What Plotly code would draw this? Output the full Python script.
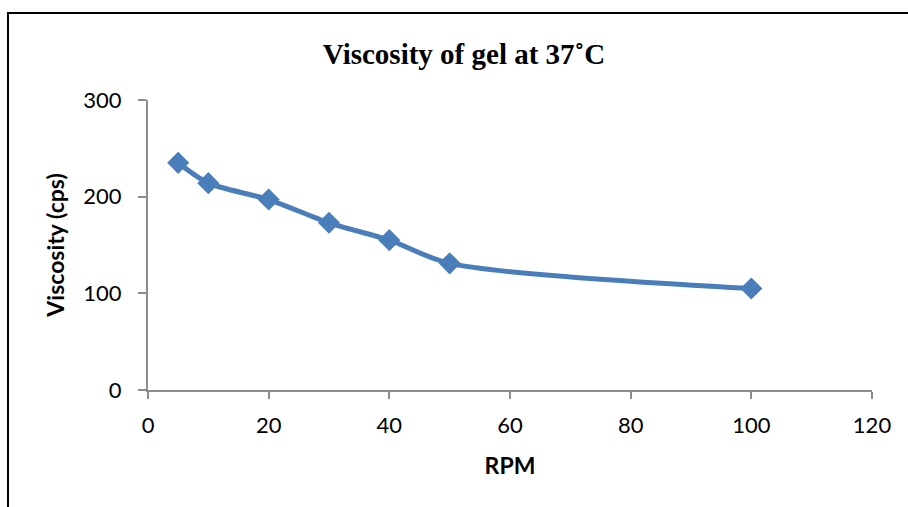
import plotly.graph_objects as go

# Viscosity measurements of the gel at 37 °C
rpm = [5, 10, 20, 30, 40, 50, 100]
viscosity = [235, 214, 197, 173, 155, 131, 105]

x_ticks = [0, 20, 40, 60, 80, 100, 120]
y_ticks = [0, 100, 200, 300]

W, H = 908, 507
L, R, T, B = 148, 36, 100, 117
pw, ph = W - L - R, H - T - B

def px_to_paper_x(px):
    return (px - L) / pw

def px_to_paper_y(py):
    return (H - B - py) / ph

blue = "#4A7EBB"
sans = "Lato, Open Sans, sans-serif"
tick_font = dict(family=sans, size=22, color="#000000")
label_font = dict(family=sans, size=23, color="#000000")
axis_color = "#8C8C8C"

fig = go.Figure()
fig.add_trace(go.Scatter(
    x=rpm, y=viscosity,
    mode="lines+markers",
    line=dict(color=blue, width=5, shape="spline", smoothing=0.8),
    marker=dict(symbol="diamond", size=17, color=blue),
    showlegend=False,
    cliponaxis=False,
))

fig.update_layout(
    width=W, height=H,
    margin=dict(l=L, r=R, t=T, b=B),
    paper_bgcolor="white",
    plot_bgcolor="white",
    title=dict(
        text="<b>Viscosity of gel at 37˚C</b>",
        font=dict(family="Liberation Serif, Times New Roman, serif", size=29, color="#000000"),
        x=px_to_paper_x(464), xref="paper", xanchor="center",
        y=1 - 54 / H, yref="container", yanchor="middle",
    ),
    xaxis=dict(
        range=[0, 120], tickvals=x_ticks, ticktext=[str(v) for v in x_ticks],
        showgrid=False, zeroline=False,
        showline=True, linecolor=axis_color, linewidth=2,
        ticks="outside", ticklen=7, tickwidth=2, tickcolor=axis_color,
        tickfont=tick_font, ticklabelstandoff=8,
        title=dict(text="<b>RPM</b>", font=label_font, standoff=20),
    ),
    yaxis=dict(
        range=[0, 300], tickvals=y_ticks, ticktext=[str(v) for v in y_ticks],
        showgrid=False, zeroline=False,
        showline=True, linecolor=axis_color, linewidth=2,
        ticks="outside", ticklen=8, tickwidth=2, tickcolor=axis_color,
        tickfont=tick_font, ticklabelstandoff=12,
        title=dict(text="<b>Viscosity (cps)</b>", font=label_font, standoff=12),
    ),
    shapes=[
        # outer frame: top edge and left edge
        dict(type="line", xref="paper", yref="paper",
             x0=px_to_paper_x(7), x1=px_to_paper_x(W + 2),
             y0=px_to_paper_y(13), y1=px_to_paper_y(13),
             line=dict(color="black", width=2)),
        dict(type="line", xref="paper", yref="paper",
             x0=px_to_paper_x(8), x1=px_to_paper_x(8),
             y0=px_to_paper_y(13), y1=px_to_paper_y(H + 2),
             line=dict(color="black", width=2)),
    ],
)

fig.write_html("out.html")
